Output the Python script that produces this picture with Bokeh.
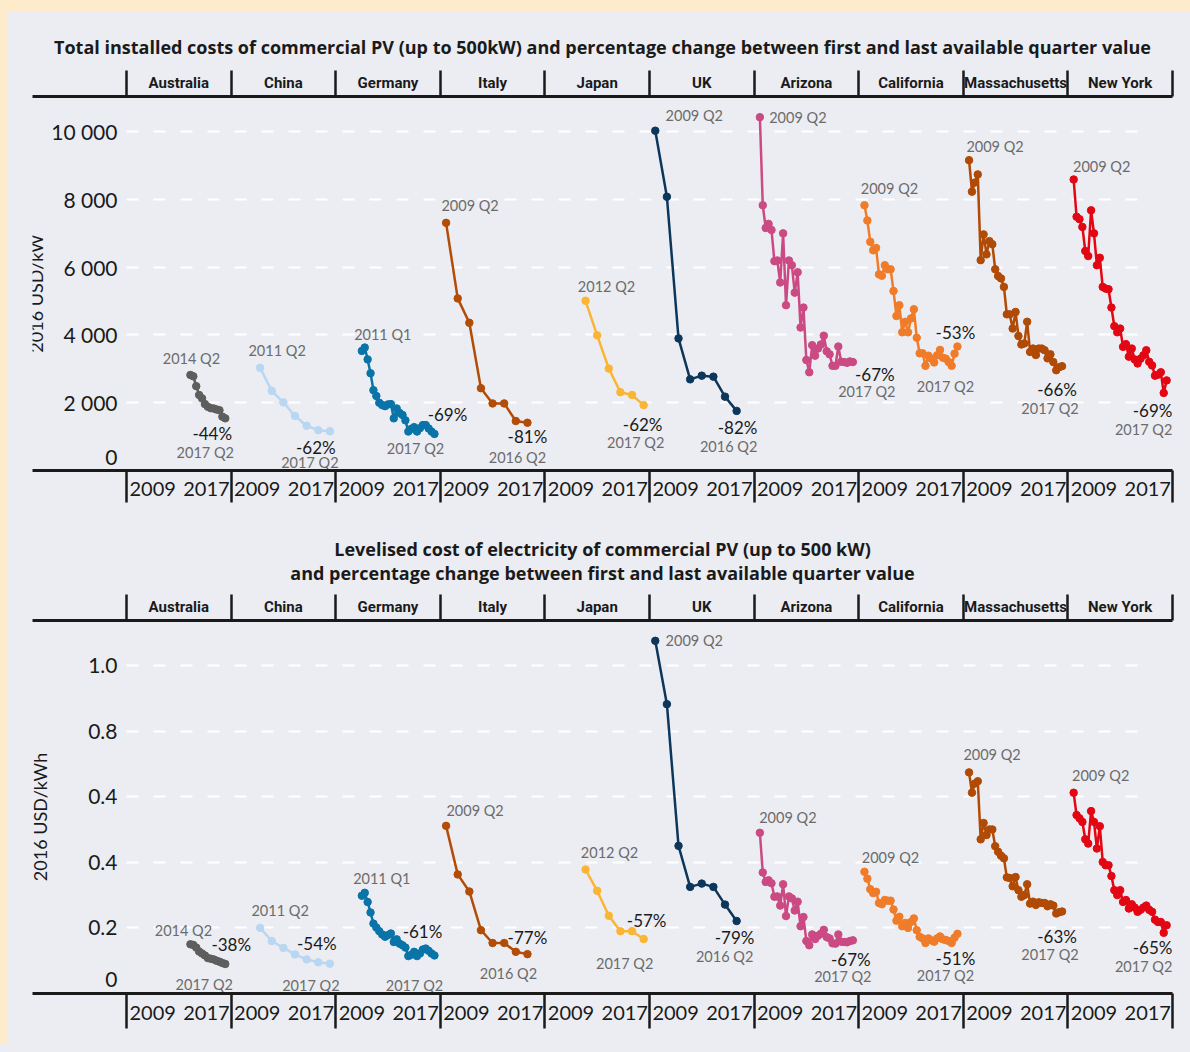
from bokeh.plotting import figure
from bokeh.models import (Range1d, LinearAxis, FixedTicker, Grid, ColumnDataSource,
                          Title, Spacer, GlobalInlineStyleSheet)
from bokeh.layouts import column, row
from bokeh.core.properties import value
from bokeh.embed import file_html
from bokeh.resources import INLINE

# ---------------------------------------------------------------- data
regions = ["Australia", "China", "Germany", "Italy", "Japan", "UK",
           "Arizona", "California", "Massachusetts", "New York"]
region_colors = ["#5e5e5e", "#b9d7f1", "#0a73a8", "#b24c06", "#fbb535",
                 "#0d365b", "#cb4a83", "#f07c2a", "#b04a05", "#e30613"]


def qindex(label):
    year, q = label.split(" Q")
    return (int(year) - 2009) * 4 + int(q) - 1


def quarterly(first, last):
    return [f"{2009 + i // 4} Q{i % 4 + 1}" for i in range(qindex(first), qindex(last) + 1)]


def annual(first, last):
    y0, q = first.split(" Q")
    y1, _ = last.split(" Q")
    return [f"{y} Q{q}" for y in range(int(y0), int(y1) + 1)]


quarters = {
    "Australia": quarterly("2014 Q2", "2017 Q2"),
    "China": annual("2011 Q2", "2017 Q2"),
    "Germany": quarterly("2011 Q1", "2017 Q2"),
    "Italy": annual("2009 Q2", "2016 Q2"),
    "Japan": annual("2012 Q2", "2017 Q2"),
    "UK": annual("2009 Q2", "2016 Q2"),
    "Arizona": quarterly("2009 Q2", "2017 Q2"),
    "California": quarterly("2009 Q2", "2017 Q2"),
    "Massachusetts": quarterly("2009 Q2", "2017 Q2"),
    "New York": quarterly("2009 Q2", "2017 Q2"),
}

# Total installed costs, 2016 USD/kW
cost_australia = [2820, 2780, 2490, 2230, 2130, 1960, 1880, 1840, 1830, 1800, 1780, 1590, 1540]
cost_china = [3030, 2350, 2010, 1610, 1320, 1190, 1160]
cost_germany = [3530, 3630, 3280, 2870, 2370, 2200, 2000, 1930, 1900, 1950, 1960, 1540, 1830,
                1700, 1640, 1480, 1150, 1230, 1280, 1150, 1250, 1340, 1340, 1240, 1150, 1080]
cost_italy = [7310, 5080, 4360, 2430, 1980, 1980, 1460, 1410]
cost_japan = [5010, 3990, 3010, 2310, 2230, 1930]
cost_uk = [10030, 8080, 3900, 2690, 2800, 2770, 2180, 1760]
cost_arizona = [10430, 7830, 7160, 7280, 7100, 6180, 6200, 5550, 7000, 4880, 6200, 6060, 5250,
                5850, 4220, 4810, 3260, 2900, 3700, 3390, 3600, 3720, 3980, 3520, 3430, 3090,
                3090, 3660, 3210, 3200, 3180, 3220, 3200]
cost_california = [7830, 7380, 6750, 6500, 6570, 5790, 5750, 6060, 5940, 5940, 5300, 4560, 4880,
                   4080, 4390, 4080, 4490, 4760, 3920, 3460, 3460, 3090, 3390, 3300, 3190, 3400,
                   3560, 3330, 3300, 3200, 3090, 3450, 3660]
cost_massachusetts = [9160, 8230, 8500, 8740, 6210, 6970, 6380, 6770, 6680, 5940, 5740, 5670,
                      5420, 4610, 4610, 4190, 4680, 3970, 3720, 3750, 4390, 3500, 3600, 3410,
                      3600, 3600, 3550, 3310, 3430, 3200, 2960, 3050, 3080]
cost_newyork = [8590, 7490, 7420, 7190, 6480, 6330, 7680, 7000, 6060, 6280, 5420, 5370, 5350,
                4810, 4260, 4080, 4190, 3650, 3730, 3360, 3600, 3280, 3160, 3300, 3400, 3550,
                3210, 3100, 2800, 2830, 2900, 2290, 2660]
cost_change = ["-44%", "-62%", "-69%", "-81%", "-62%", "-82%", "-67%", "-53%", "-66%", "-69%"]

# Levelised cost of electricity, 2016 USD/kWh
lcoe_australia = [0.150, 0.148, 0.140, 0.128, 0.122, 0.116, 0.108, 0.106, 0.104, 0.100, 0.097,
                  0.093, 0.090]
lcoe_china = [0.200, 0.160, 0.139, 0.119, 0.104, 0.095, 0.091]
lcoe_germany = [0.298, 0.307, 0.279, 0.247, 0.213, 0.201, 0.190, 0.180, 0.173, 0.178, 0.183,
                0.157, 0.165, 0.152, 0.147, 0.140, 0.114, 0.118, 0.127, 0.114, 0.122, 0.134,
                0.137, 0.130, 0.122, 0.116]
lcoe_italy = [0.511, 0.363, 0.311, 0.193, 0.154, 0.154, 0.127, 0.120]
lcoe_japan = [0.378, 0.313, 0.237, 0.190, 0.190, 0.166]
lcoe_uk = [1.075, 0.882, 0.450, 0.325, 0.335, 0.325, 0.271, 0.221]
lcoe_arizona = [0.490, 0.369, 0.340, 0.345, 0.336, 0.295, 0.296, 0.268, 0.333, 0.236, 0.296,
                0.290, 0.253, 0.280, 0.205, 0.233, 0.160, 0.147, 0.180, 0.166, 0.176, 0.182,
                0.194, 0.172, 0.168, 0.153, 0.152, 0.180, 0.158, 0.157, 0.156, 0.160, 0.162]
lcoe_california = [0.371, 0.350, 0.318, 0.306, 0.310, 0.276, 0.272, 0.285, 0.283, 0.283, 0.256,
                   0.222, 0.234, 0.205, 0.215, 0.200, 0.218, 0.229, 0.193, 0.173, 0.168, 0.154,
                   0.168, 0.162, 0.158, 0.168, 0.174, 0.165, 0.163, 0.160, 0.154, 0.170, 0.182]
lcoe_massachusetts = [0.674, 0.612, 0.640, 0.647, 0.470, 0.520, 0.483, 0.500, 0.500, 0.449,
                      0.432, 0.420, 0.412, 0.354, 0.352, 0.327, 0.355, 0.315, 0.295, 0.300,
                      0.333, 0.274, 0.280, 0.270, 0.278, 0.276, 0.276, 0.266, 0.272, 0.268,
                      0.244, 0.248, 0.250]
lcoe_newyork = [0.612, 0.544, 0.534, 0.523, 0.470, 0.457, 0.556, 0.523, 0.442, 0.510, 0.401,
                0.391, 0.391, 0.358, 0.315, 0.300, 0.315, 0.279, 0.285, 0.259, 0.272, 0.262,
                0.249, 0.255, 0.262, 0.268, 0.255, 0.249, 0.225, 0.218, 0.218, 0.185, 0.208]
lcoe_change = ["-38%", "-54%", "-61%", "-77%", "-57%", "-79%", "-67%", "-51%", "-63%", "-65%"]

cost_values = dict(zip(regions, [cost_australia, cost_china, cost_germany, cost_italy, cost_japan,
                                 cost_uk, cost_arizona, cost_california, cost_massachusetts,
                                 cost_newyork]))
lcoe_values = dict(zip(regions, [lcoe_australia, lcoe_china, lcoe_germany, lcoe_italy, lcoe_japan,
                                 lcoe_uk, lcoe_arizona, lcoe_california, lcoe_massachusetts,
                                 lcoe_newyork]))

cost_ticks = [0, 2000, 4000, 6000, 8000, 10000]
cost_tick_labels = ["0", "2 000", "4 000", "6 000", "8 000", "10 000"]
lcoe_ticks = [0, 0.2, 0.4, 0.6, 0.8, 1.0]
lcoe_tick_labels = ["0", "0.2", "0.4", "0.4", "0.8", "1.0"]
year_labels = ["2009", "2017"]

cost_title = ["Total installed costs of commercial PV (up to 500kW) and percentage change "
              "between first and last available quarter value"]
lcoe_title = ["Levelised cost of electricity of commercial PV (up to 500 kW)",
              "and percentage change between first and last available quarter value"]

# ---------------------------------------------------------------- styling
BG = "#EBEDF2"
BEIGE = "#FEEBCC"
INK = "#1a1a1a"
GREY_TXT = "#6b6b6b"
NUM_FONT = "Lato"
HEAD_FONT = "Roboto"
TITLE_FONT = "Open Sans"

FIG_W = 1181
COL = 36                      # quarters per region band
X_LO, X_HI = -33.35, 359.02
band_edges = [i * COL - 1 for i in range(11)]
band_centers = [i * COL + 17 for i in range(10)]
year_pos = [(i * COL + 8, i * COL + 26.5) for i in range(10)]
GRID_END = 352.1

# label offsets in screen px: (start label), (percentage), (end label)
cost_offsets = {
    "Australia": ((1, -16), (-13, 15), (-20, 34)),
    "China": ((17, -17), (-14, 16), (-20, 31)),
    "Germany": ((21, -16), (13, -19), (-19, 15)),
    "Italy": ((24, -17), (0, 14), (-10, 35)),
    "Japan": ((21, -14), (-1, 19), (-8, 37)),
    "UK": ((39, -15), (1, 17), (-8, 36)),
    "Arizona": ((38, 0), (22, 12), (14, 29)),
    "California": ((25, -17), (-2, -14), (-12, 40)),
    "Massachusetts": ((26, -14), (-5, 23), (-12, 42)),
    "New York": ((28, -13), (-14, 30), (-23, 49)),
}
lcoe_offsets = {
    "Australia": ((-7, -14), (6, -19), (-21, 21)),
    "China": ((20, -17), (-13, -20), (-19, 22)),
    "Germany": ((20, -17), (-12, -24), (-20, 30)),
    "Italy": ((29, -15), (0, -17), (-19, 19)),
    "Japan": ((24, -17), (3, -19), (-19, 24)),
    "UK": ((39, 0), (-2, 17), (-12, 36)),
    "Arizona": ((28, -15), (-2, 19), (-10, 36)),
    "California": ((26, -14), (-2, 25), (-12, 42)),
    "Massachusetts": ((23, -18), (-5, 25), (-12, 43)),
    "New York": ((27, -17), (-14, 22), (-23, 41)),
}


def make_panel(title_lines, title_standoffs, values, changes, offsets, ylabel, ylabel_standoff,
               y_top, ticks, tick_labels, height, border_top, border_bottom, sep_len,
               year_standoff):
    frame_h = height - border_top - border_bottom
    ppu = frame_h / y_top
    p = figure(width=FIG_W, height=height, title=None,
               x_range=Range1d(X_LO, X_HI), y_range=Range1d(0, y_top),
               x_axis_location=None, y_axis_location=None, toolbar_location=None,
               output_backend="svg", min_border_left=24, min_border_right=FIG_W - 24 - 1140,
               min_border_top=border_top, min_border_bottom=border_bottom,
               background_fill_color=BG, border_fill_color=BG, outline_line_color=None)
    p.center = []

    grid = Grid(dimension=1, ticker=FixedTicker(ticks=[t for t in ticks if t != 0]),
                grid_line_color="white", grid_line_width=2, grid_line_dash="12 15")
    try:
        grid.cross_bounds = (-1, GRID_END)
    except Exception:
        pass
    p.add_layout(grid)

    # header with region names
    top_ax = LinearAxis(ticker=FixedTicker(ticks=band_centers, minor_ticks=band_edges),
                        major_label_overrides={c: r for c, r in zip(band_centers, regions)},
                        major_tick_line_color=None, major_tick_out=0, major_tick_in=0,
                        minor_tick_out=26, minor_tick_in=0, minor_tick_line_width=2.5,
                        minor_tick_line_color=INK, axis_line_width=3, axis_line_color=INK,
                        major_label_standoff=-21, major_label_text_font=HEAD_FONT,
                        major_label_text_font_size="15px", major_label_text_font_style="bold",
                        major_label_text_color=INK)
    p.add_layout(top_ax, "above")
    for line, so in zip(reversed(title_lines), reversed(title_standoffs)):
        p.add_layout(Title(text=line, align="center", text_font=TITLE_FONT,
                           text_font_size="18px", text_font_style="bold",
                           text_color=INK, standoff=so), "above")

    # year axis
    ypos = [v for pair in year_pos for v in pair]
    bot_ax = LinearAxis(ticker=FixedTicker(ticks=ypos, minor_ticks=band_edges),
                        major_label_overrides={v: year_labels[j % 2] for j, v in enumerate(ypos)},
                        major_tick_line_color=None, major_tick_out=0, major_tick_in=0,
                        minor_tick_out=sep_len, minor_tick_in=0, minor_tick_line_width=2.5,
                        minor_tick_line_color=INK, axis_line_width=3, axis_line_color=INK,
                        major_label_standoff=year_standoff, major_label_text_font=NUM_FONT,
                        major_label_text_font_size="20px", major_label_text_color=INK)
    p.add_layout(bot_ax, "below")

    # value axis, placed at the left edge of the first band
    lift = 14 / ppu
    tick_pos = [t + lift if t == 0 else t for t in ticks]
    centre = (frame_h / 2 - 10) / ppu
    y_ax = LinearAxis(ticker=FixedTicker(ticks=tick_pos),
                      major_label_overrides={tp: lab for tp, lab in zip(tick_pos, tick_labels)},
                      fixed_location=-1, bounds=(0, 2 * centre),
                      axis_line_color=None, major_tick_line_color=None, major_tick_out=0,
                      major_tick_in=0, minor_tick_out=0, minor_tick_in=0,
                      minor_tick_line_color=None, major_label_standoff=9,
                      major_label_text_font=NUM_FONT, major_label_text_font_size="21px",
                      major_label_text_color=INK, axis_label=ylabel,
                      axis_label_standoff=ylabel_standoff, axis_label_text_font=NUM_FONT,
                      axis_label_text_font_size="18px", axis_label_text_font_style="normal",
                      axis_label_text_color=INK)
    p.add_layout(y_ax, "left")

    lab = dict(sx=[], sy=[], st=[], sdx=[], sdy=[],
               ex=[], ey=[], et=[], edx=[], edy=[], pt=[], pdx=[], pdy=[])
    for i, (r, c) in enumerate(zip(regions, region_colors)):
        qs = quarters[r]
        xs = [i * COL + qindex(q) for q in qs]
        ys = values[r]
        src = ColumnDataSource(dict(x=xs, y=ys))
        p.line("x", "y", source=src, line_color=c, line_width=2.5)
        p.scatter("x", "y", source=src, size=7.5, color=c)
        (s_dx, s_dy), (p_dx, p_dy), (e_dx, e_dy) = offsets[r]
        lab["sx"].append(xs[0]); lab["sy"].append(ys[0]); lab["st"].append(qs[0])
        lab["sdx"].append(s_dx); lab["sdy"].append(s_dy)
        lab["ex"].append(xs[-1]); lab["ey"].append(ys[-1]); lab["et"].append(qs[-1])
        lab["edx"].append(e_dx); lab["edy"].append(e_dy)
        lab["pt"].append(changes[i]); lab["pdx"].append(p_dx); lab["pdy"].append(p_dy)

    ls = ColumnDataSource(lab)
    common = dict(source=ls, text_align="center", text_baseline="middle",
                  text_font=value(NUM_FONT))
    p.text(x="sx", y="sy", text="st", x_offset="sdx", y_offset="sdy",
           text_font_size="14.5px", text_color=GREY_TXT, **common)
    p.text(x="ex", y="ey", text="et", x_offset="edx", y_offset="edy",
           text_font_size="14.5px", text_color=GREY_TXT, **common)
    p.text(x="ex", y="ey", text="pt", x_offset="pdx", y_offset="pdy",
           text_font_size="17px", text_color=INK, **common)
    return p


p_cost = make_panel(cost_title, [24], cost_values, cost_change, cost_offsets,
                    "2016 USD/kW", 1, 11040, cost_ticks, cost_tick_labels,
                    height=516, border_top=84, border_bottom=58, sep_len=32,
                    year_standoff=-21)
p_lcoe = make_panel(lcoe_title, [-22, 19], lcoe_values, lcoe_change, lcoe_offsets,
                    "2016 USD/kWh", 34, 1.137, lcoe_ticks, lcoe_tick_labels,
                    height=516, border_top=92, border_bottom=51, sep_len=35,
                    year_standoff=-23)

page_css = GlobalInlineStyleSheet(css="html, body { background-color: %s; }" % BG)
top_strip = Spacer(width=1190, height=12, styles={"background-color": BEIGE})
left_strip = Spacer(width=8, height=1032, styles={"background-color": BEIGE})
p = column(top_strip, row(left_strip, column(p_cost, p_lcoe, spacing=0), spacing=0),
           spacing=0, stylesheets=[page_css])

open("out.html", "w").write(file_html(p, INLINE))
